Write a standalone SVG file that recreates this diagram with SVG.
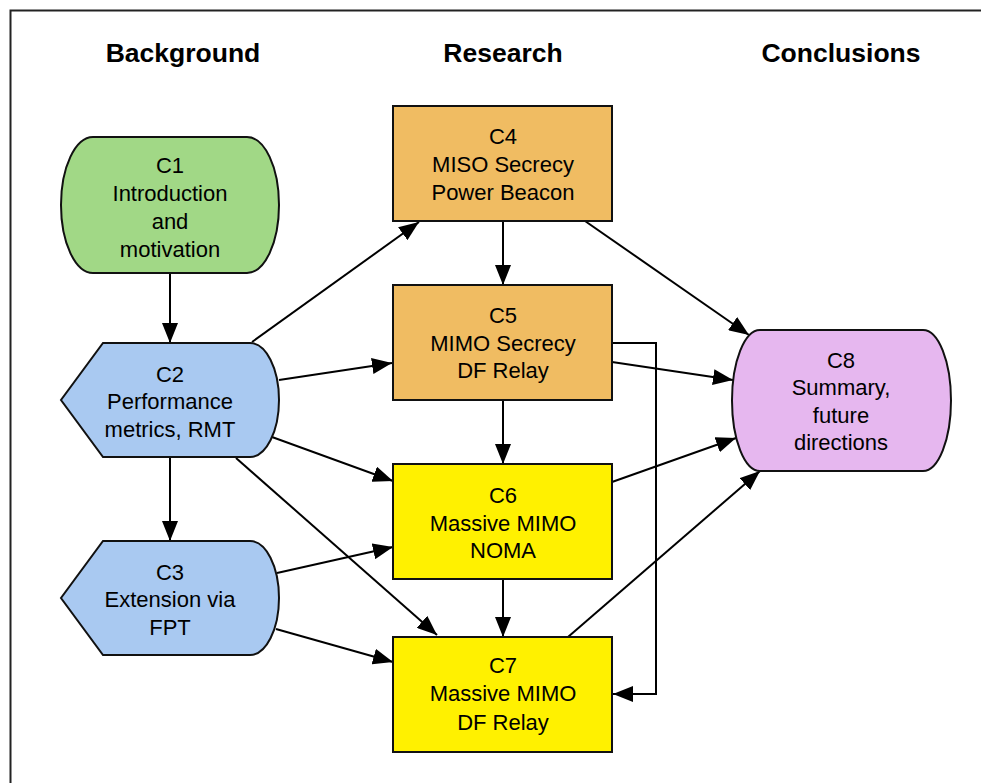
<svg xmlns="http://www.w3.org/2000/svg" width="981" height="783" viewBox="0 0 981 783">
  <defs>
    <marker id="arrow" markerUnits="userSpaceOnUse" markerWidth="20" markerHeight="16" refX="20" refY="8" orient="auto">
      <path d="M0,0 L20,8 L0,16 Z" fill="#000"/>
    </marker>
    <style>
      .hdr { font-family: "Liberation Sans", Arial, Helvetica, sans-serif; font-weight: bold; font-size: 26.5px; text-anchor: middle; fill: #000; }
      .lbl { font-family: "Liberation Sans", Arial, Helvetica, sans-serif; font-size: 22px; text-anchor: middle; fill: #000; }
      .shape { stroke: #111; stroke-width: 2; }
      .green { fill: #a1d886; }
      .blue { fill: #a9c9f1; }
      .orange { fill: #f0bc62; }
      .yellow { fill: #fff100; }
      .purple { fill: #e6b7ef; }
      .conn { fill: none; stroke: #000; stroke-width: 2; marker-end: url(#arrow); }
    </style>
  </defs>

  <rect x="0" y="0" width="981" height="783" fill="#fff"/>
  <!-- outer frame -->
  <rect x="10.5" y="10.5" width="1000" height="1000" fill="none" stroke="#222" stroke-width="2"/>

  <!-- column headers -->
  <text class="hdr" x="183" y="62">Background</text>
  <text class="hdr" x="503" y="62">Research</text>
  <text class="hdr" x="841" y="62">Conclusions</text>

  <!-- connectors -->
  <g id="connectors">
    <path class="conn" d="M170,273 V343"/>
    <path class="conn" d="M170,457 V541"/>
    <path class="conn" d="M252,342 L419,222"/>
    <path class="conn" d="M279,380 L392,363"/>
    <path class="conn" d="M272,437 L393,481"/>
    <path class="conn" d="M236,458 L437,635"/>
    <path class="conn" d="M277,573 L393,547"/>
    <path class="conn" d="M276,629 L393,662"/>
    <path class="conn" d="M503,221 V285"/>
    <path class="conn" d="M503,400 V464"/>
    <path class="conn" d="M503,579 V637"/>
    <path class="conn" d="M585,221 L749,335"/>
    <path class="conn" d="M612,362 L733,380"/>
    <path class="conn" d="M612,482 L736,438"/>
    <path class="conn" d="M568,637 L760,471"/>
    <path class="conn" d="M612,343 H656 V694 H613"/>
  </g>

  <!-- C1 -->
  <g id="c1">
    <path class="shape green" d="M93,137 H247 A32,68 0 0 1 247,273 H93 A32,68 0 0 1 93,137 Z"/>
    <text class="lbl" x="170" y="173">C1</text>
    <text class="lbl" x="170" y="201">Introduction</text>
    <text class="lbl" x="170" y="229">and</text>
    <text class="lbl" x="170" y="257">motivation</text>
  </g>

  <!-- C2 -->
  <g id="c2">
    <path class="shape blue" d="M103,343 H250 A29,57 0 0 1 250,457 H103 L61,400 Z"/>
    <text class="lbl" x="170" y="382">C2</text>
    <text class="lbl" x="170" y="409">Performance</text>
    <text class="lbl" x="170" y="437">metrics, RMT</text>
  </g>

  <!-- C3 -->
  <g id="c3">
    <path class="shape blue" d="M103,541 H250 A29,57 0 0 1 250,655 H103 L61,598 Z"/>
    <text class="lbl" x="170" y="580">C3</text>
    <text class="lbl" x="170" y="607">Extension via</text>
    <text class="lbl" x="170" y="635">FPT</text>
  </g>

  <!-- C4 -->
  <g id="c4">
    <rect class="shape orange" x="393" y="106" width="219" height="115"/>
    <text class="lbl" x="503" y="144">C4</text>
    <text class="lbl" x="503" y="172">MISO Secrecy</text>
    <text class="lbl" x="503" y="200">Power Beacon</text>
  </g>

  <!-- C5 -->
  <g id="c5">
    <rect class="shape orange" x="393" y="285" width="219" height="115"/>
    <text class="lbl" x="503" y="323">C5</text>
    <text class="lbl" x="503" y="351">MIMO Secrecy</text>
    <text class="lbl" x="503" y="378">DF Relay</text>
  </g>

  <!-- C6 -->
  <g id="c6">
    <rect class="shape yellow" x="393" y="464" width="219" height="115"/>
    <text class="lbl" x="503" y="503">C6</text>
    <text class="lbl" x="503" y="531">Massive MIMO</text>
    <text class="lbl" x="503" y="558">NOMA</text>
  </g>

  <!-- C7 -->
  <g id="c7">
    <rect class="shape yellow" x="393" y="637" width="219" height="115"/>
    <text class="lbl" x="503" y="673">C7</text>
    <text class="lbl" x="503" y="701">Massive MIMO</text>
    <text class="lbl" x="503" y="730">DF Relay</text>
  </g>

  <!-- C8 -->
  <g id="c8">
    <path class="shape purple" d="M760,330 H923 A28,70.5 0 0 1 923,471 H760 A28,70.5 0 0 1 760,330 Z"/>
    <text class="lbl" x="841" y="368">C8</text>
    <text class="lbl" x="841" y="395">Summary,</text>
    <text class="lbl" x="841" y="423">future</text>
    <text class="lbl" x="841" y="450">directions</text>
  </g>
</svg>
